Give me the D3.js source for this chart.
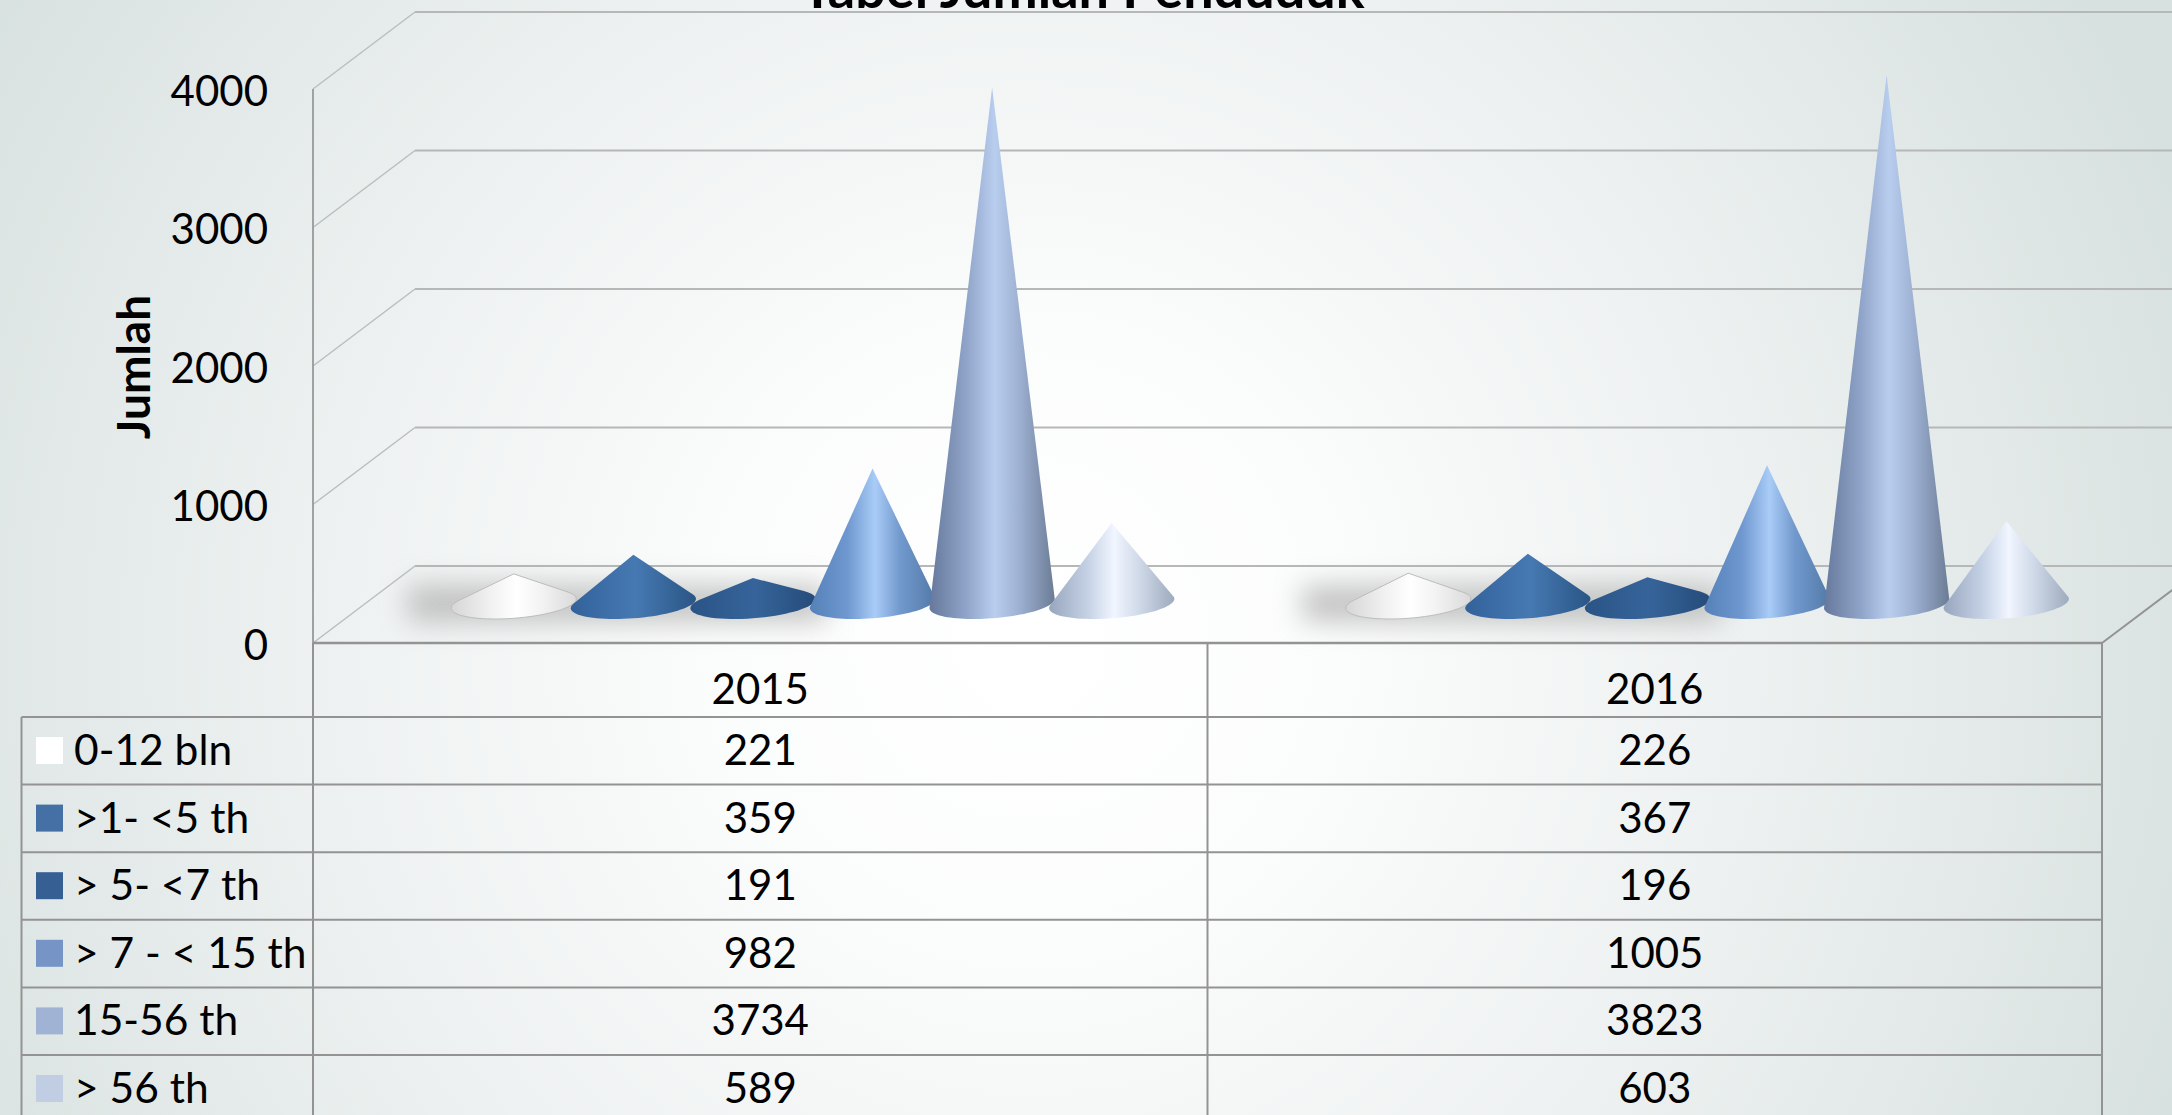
<!DOCTYPE html>
<html>
<head>
<meta charset="utf-8">
<script src="https://cdn.jsdelivr.net/npm/d3@7"></script>
<style>
  html, body { margin: 0; padding: 0; overflow: hidden; background: #fff; }
  svg { display: block; }
  text { font-family: Lato, "Open Sans", sans-serif; fill: #000; }
</style>
</head>
<body>
<div id="chart"></div>
<script>
const years = ["2015", "2016"];
const groups = ["0-12 bln", ">1- <5 th", "> 5- <7 th", "> 7 - < 15 th", "15-56 th", "> 56 th"];
const values2015 = [221, 359, 191, 982, 3734, 589];
const values2016 = [226, 367, 196, 1005, 3823, 603];
const yTicks = [0, 1000, 2000, 3000, 4000];

const swatchColors = ["#ffffff", "#4470a5", "#366093", "#7695c6", "#a0b3d5", "#c1cde3"];
const coneStops = [
  ["#d6d6d6", "#f0f0f0", "#ffffff", "#f3f3f3", "#dadada"],
  ["#33629a", "#3e6fa9", "#4679b2", "#3a6a9f", "#2a5586"],
  ["#2a5485", "#315d92", "#36649a", "#2f5a8c", "#254b7a"],
  ["#5580b8", "#6f98d0", "#a9ccf7", "#7299cd", "#527aa8"],
  ["#66799c", "#90a5c9", "#b9ceef", "#9db0d1", "#6c7c96"],
  ["#98a6be", "#c3d0e4", "#f1f6ff", "#cfd9e8", "#9eabbe"]
];
const stopOffsets = [0, 0.3, 0.52, 0.72, 1];

const width = 2172, height = 1115;
const plot = { left: 313, right: 2102, bottom: 643, top: 89 };
const depth = { x: 102, y: -77 };
const table = { left: 21.5, top: 717, rowHeight: 67.6 };

const svg = d3.select("#chart").append("svg").attr("width", width).attr("height", height);
const defs = svg.append("defs");

// slide background
const bg = defs.append("radialGradient").attr("id", "bg")
  .attr("gradientUnits", "userSpaceOnUse")
  .attr("cx", 1030).attr("cy", 640).attr("r", 1230);
[[0, "#ffffff"], [0.25, "#fbfcfc"], [0.55, "#eff2f2"], [0.8, "#e2e9e8"], [1, "#d7e1df"]]
  .forEach(s => bg.append("stop").attr("offset", s[0]).attr("stop-color", s[1]));
svg.append("rect").attr("width", width).attr("height", height).attr("fill", "url(#bg)");

coneStops.forEach((stops, i) => {
  const g = defs.append("linearGradient").attr("id", `cone${i}`);
  stops.forEach((c, j) => g.append("stop").attr("offset", stopOffsets[j]).attr("stop-color", c));
});
defs.append("filter").attr("id", "blur")
  .attr("x", "-30%").attr("y", "-100%").attr("width", "160%").attr("height", "300%")
  .append("feGaussianBlur").attr("stdDeviation", 14);

const y = d3.scaleLinear().domain([0, 4000]).range([plot.bottom, plot.top]);
const xYear = d3.scaleBand().domain(years).range([plot.left, plot.right]);
// cones sit half way into the floor
const xGroup = d3.scaleBand().domain(groups)
  .range([0, xYear.bandwidth()]).paddingInner(0).paddingOuter(0.74);

const walls = svg.append("g");

// gridlines, back wall + side wall
walls.selectAll("line.back").data(yTicks).join("line")
  .attr("x1", plot.left + depth.x).attr("x2", width + 10)
  .attr("y1", d => y(d) + depth.y).attr("y2", d => y(d) + depth.y)
  .attr("stroke", "#b6b8b8").attr("stroke-width", 2);
walls.selectAll("line.side").data(yTicks).join("line")
  .attr("x1", plot.left).attr("x2", plot.left + depth.x)
  .attr("y1", d => y(d)).attr("y2", d => y(d) + depth.y)
  .attr("stroke", "#bcbebe").attr("stroke-width", 1.5);

// front edge of the floor and the right side
walls.append("line")
  .attr("x1", plot.right).attr("x2", plot.right + depth.x)
  .attr("y1", y(0)).attr("y2", y(0) + depth.y)
  .attr("stroke", "#939393").attr("stroke-width", 2);
walls.append("line")
  .attr("x1", plot.left).attr("x2", plot.left)
  .attr("y1", y(4000)).attr("y2", y(0))
  .attr("stroke", "#a0a2a2").attr("stroke-width", 2);
walls.append("line")
  .attr("x1", plot.left).attr("x2", plot.right)
  .attr("y1", y(0)).attr("y2", y(0))
  .attr("stroke", "#939393").attr("stroke-width", 2.5);

const coneLine = d3.line();

function conePath(cx, cy, apexY, rx, ry, tilt) {
  const cos = Math.cos(tilt), sin = Math.sin(tilt);
  // apex in the unit circle space of the base
  const dx = 0, dy = apexY - cy;
  const px = (dx * cos + dy * sin) / rx, py = (-dx * sin + dy * cos) / ry;
  const dist = Math.hypot(px, py), phi = Math.atan2(py, px);
  const alpha = dist > 1 ? Math.acos(1 / dist) : Math.PI / 2;
  const start = phi + alpha, end = phi - alpha + Math.PI * 2;
  const pts = [[cx, apexY]];
  d3.range(0, 49).forEach(i => {
    const a = start + (end - start) * i / 48;
    const ex = Math.cos(a) * rx, ey = Math.sin(a) * ry;
    pts.push([cx + ex * cos - ey * sin, cy + ex * sin + ey * cos]);
  });
  return coneLine(pts) + "Z";
}

const rx = xGroup.bandwidth() * 0.525, ry = rx * 0.235, tilt = -4.5 * Math.PI / 180;
const coneOffset = { x: depth.x / 2 + 1.5, y: depth.y / 2 };
const baseY = y(0) + coneOffset.y;

years.forEach((year, yi) => {
  const vals = yi === 0 ? values2015 : values2016;
  const gx = xYear(year) + coneOffset.x;

  // soft shadow on the floor, behind the low cones
  svg.append("rect")
    .attr("x", gx + xGroup(groups[0]) - 46)
    .attr("width", xGroup(groups[3]) - xGroup(groups[0]) + 60)
    .attr("y", baseY - 19).attr("height", 36)
    .attr("fill", "#a4a4a4").attr("opacity", 0.65)
    .attr("filter", "url(#blur)");

  svg.append("g").selectAll("path").data(vals).join("path")
    .attr("d", (d, i) => conePath(
      gx + xGroup(groups[i]) + xGroup.bandwidth() / 2,
      baseY - 1, y(d) + coneOffset.y, rx, ry, tilt))
    .attr("fill", (d, i) => `url(#cone${i})`)
    .attr("stroke", (d, i) => i === 0 ? "#bdbdbd" : "none")
    .attr("stroke-width", 1);
});

// y axis
const axis = svg.append("g")
  .attr("transform", `translate(${plot.left - 45},3)`)
  .call(d3.axisLeft(y).tickValues(yTicks).tickSize(0).tickPadding(0).tickFormat(d3.format("d")));
axis.select(".domain").remove();
axis.selectAll("text").attr("font-size", 42).style("font-family", "Lato");

svg.append("text")
  .attr("transform", "translate(150,367) rotate(-90)")
  .attr("text-anchor", "middle")
  .attr("font-size", 46).attr("font-weight", 700)
  .text("Jumlah");

// title, mostly cut off by the top edge
svg.append("text")
  .attr("x", 1083).attr("y", 8)
  .attr("text-anchor", "middle")
  .attr("font-size", 54).attr("font-weight", 700)
  .text("Tabel Jumlah Penduduk");

// data table
const tableGroup = svg.append("g");
const yRow = d3.scaleBand().domain(groups)
  .range([table.top, table.top + groups.length * table.rowHeight]);
const rowLines = [table.top].concat(groups.map(g => yRow(g) + yRow.bandwidth()));

tableGroup.selectAll("line.row").data(rowLines).join("line")
  .attr("x1", table.left).attr("x2", plot.right)
  .attr("y1", d => d).attr("y2", d => d)
  .attr("stroke", "#939393").attr("stroke-width", 2);

tableGroup.selectAll("line.col").data([plot.left, xYear(years[1]), plot.right]).join("line")
  .attr("x1", d => d).attr("x2", d => d)
  .attr("y1", plot.bottom).attr("y2", height)
  .attr("stroke", "#939393").attr("stroke-width", 2);
tableGroup.append("line")
  .attr("x1", table.left).attr("x2", table.left)
  .attr("y1", table.top).attr("y2", height)
  .attr("stroke", "#939393").attr("stroke-width", 2);

tableGroup.selectAll("text.year").data(years).join("text")
  .attr("x", d => xYear(d) + xYear.bandwidth() / 2)
  .attr("y", 704)
  .attr("text-anchor", "middle").attr("font-size", 42)
  .text(d => d);

tableGroup.selectAll("rect.swatch").data(groups).join("rect")
  .attr("x", 36).attr("y", d => yRow(d) + 20)
  .attr("width", 27).attr("height", 27)
  .attr("fill", (d, i) => swatchColors[i]);

tableGroup.selectAll("text.group").data(groups).join("text")
  .attr("x", 74).attr("y", d => yRow(d) + 48)
  .attr("font-size", 42.5)
  .text(d => d);

years.forEach((year, yi) => {
  const vals = yi === 0 ? values2015 : values2016;
  tableGroup.append("g").selectAll("text").data(vals).join("text")
    .attr("x", xYear(year) + xYear.bandwidth() / 2)
    .attr("y", (d, i) => yRow(groups[i]) + 48)
    .attr("text-anchor", "middle").attr("font-size", 42)
    .text(d => d);
});
</script>
</body>
</html>
